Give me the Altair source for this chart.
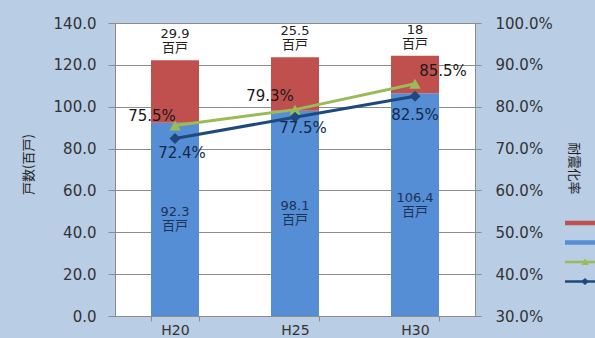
import altair as alt
import pandas as pd

# ---- data ----
years = ["H20", "H25", "H30"]
unsafe = [29.9, 25.5, 18]          # red (top segment)
safe = [92.3, 98.1, 106.4]         # blue (bottom segment)
rate_green = [75.5, 79.3, 85.5]    # green line (triangles)
rate_navy = [72.4, 77.5, 82.5]     # navy line (diamonds)

names = ["耐震性が不十分な住宅", "耐震性を満たす住宅", "耐震化率", "耐震化率（推計）"]
colors = ["#C0504D", "#558ED5", "#9BBB59", "#1F497D"]

bars_df = pd.DataFrame({
    "年": years * 2,
    "系列": [names[1]] * 3 + [names[0]] * 3,
    "戸数": safe + unsafe,
})
top_df = pd.DataFrame({
    "年": years,
    "戸数": [a + b for a, b in zip(safe, unsafe)],
    "値": unsafe,
})
inner_df = pd.DataFrame({"年": years, "値": safe})
lines_df = pd.DataFrame({
    "年": years * 2,
    "系列": [names[2]] * 3 + [names[3]] * 3,
    "率": rate_green + rate_navy,
})

FONT = "DejaVu Sans"
CJK = "Noto Sans CJK JP"

x_enc = alt.X(
    "年:N",
    scale=alt.Scale(domain=years, paddingInner=0.6, paddingOuter=0.3),
    axis=alt.Axis(title=None, labelAngle=0, tickBand="extent", tickSize=5,
                  labelPadding=2, grid=False, labelFontSize=14),
)

# ---- left side: stacked bars ----
y_left_axis = alt.Axis(
    title="戸数(百戸)", values=[0, 20, 40, 60, 80, 100, 120, 140], format=".1f",
    grid=True, tickSize=7, labelPadding=12, titleX=-87, titleY=141,
    titleAlign="center", titleBaseline="middle", titleAngle=-90,
)
left_scale = alt.Scale(domain=[0, 140], nice=False, zero=True)

bars = alt.Chart(bars_df).transform_calculate(
    ord=f"datum['系列'] == '{names[1]}' ? 0 : 1"
).mark_bar().encode(
    x=x_enc,
    y=alt.Y("戸数:Q", stack="zero", scale=left_scale, axis=y_left_axis),
    fill=alt.Fill("系列:N", scale=alt.Scale(domain=names[:2], range=colors[:2]), legend=None),
    order=alt.Order("ord:Q"),
)

top_text = alt.Chart(top_df).transform_calculate(
    t="datum['値'] + '\\n百戸'"
).mark_text(
    baseline="middle", dy=-26, lineBreak="\n", lineHeight=14,
    font=f"{FONT}, {CJK}", fontSize=13, color="#222222",
).encode(
    x=x_enc,
    y=alt.Y("戸数:Q", scale=left_scale, axis=y_left_axis),
    text="t:N",
)

inner_text = alt.Chart(inner_df).transform_calculate(
    戸数="datum['値'] / 2",
    t="datum['値'] + '\\n百戸'",
).mark_text(
    baseline="middle", dy=-7, lineBreak="\n", lineHeight=14,
    font=f"{FONT}, {CJK}", fontSize=13, color="#1B3358",
).encode(
    x=x_enc,
    y=alt.Y("戸数:Q", scale=left_scale, axis=y_left_axis),
    text="t:N",
)

left = alt.layer(bars, top_text, inner_text)

# ---- right side: rate lines ----
right_scale = alt.Scale(domain=[30, 100], nice=False, zero=False)
y_right_axis = alt.Axis(
    title="耐震化率", orient="right", values=[30, 40, 50, 60, 70, 80, 90, 100],
    labelExpr="format(datum.value, '.1f') + '%'", grid=False, tickSize=6,
    labelPadding=14, titleX=98, titleY=145, titleAngle=90,
    titleAlign="center", titleBaseline="middle",
)
y_right = alt.Y("率:Q", scale=right_scale, axis=y_right_axis)

right_layers = []
series_style = [
    (names[2], colors[2], "triangle-up", 130),
    (names[3], colors[3], "diamond", 120),
]
label_offsets = {
    names[2]: [(-23, -10), (-25, -14), (28, -13)],
    names[3]: [(7, 14), (8, 11), (0, 19)],
}
for name, col, shp, sz in series_style:
    base = alt.Chart(lines_df).transform_filter(alt.datum["系列"] == name)
    right_layers.append(base.mark_line(color=col, strokeWidth=3).encode(x=x_enc, y=y_right))
    right_layers.append(base.mark_point(filled=True, shape=shp, size=sz, color=col, opacity=1)
                        .encode(x=x_enc, y=y_right))
    for yr, (dx, dy) in zip(years, label_offsets[name]):
        right_layers.append(
            base.transform_filter(alt.datum["年"] == yr)
            .transform_calculate(t="format(datum['率'], '.1f') + '%'")
            .mark_text(dx=dx, dy=dy, baseline="middle", font=FONT, fontSize=15,
                       color="#1A1A1A" if name == names[2] else "#14284A")
            .encode(x=x_enc, y=y_right, text="t:N")
        )

# legend (symbols drawn from the scales, labels fall outside the picture)
paths = [
    "M-2,-0.22H2V0.22H-2Z",
    "M-2,-0.22H2V0.22H-2Z",
    "M-2,-0.12H2V0.12H-2Z M0,-0.38L0.38,0.3L-0.38,0.3Z",
    "M-2,-0.12H2V0.12H-2Z M0,-0.34L0.4,0L0,0.34L-0.4,0Z",
]
leg = alt.Legend(orient="none", legendX=460, legendY=190, title=None,
                 symbolSize=400, symbolStrokeWidth=0, labelFontSize=12,
                 labelFont=CJK, labelColor="#222222", rowPadding=3.5, padding=0,
                 symbolOffset=0, labelOffset=8)
legend_layer = alt.Chart(lines_df).transform_filter("false").mark_point(
    filled=True, opacity=1
).encode(
    x=x_enc,
    y=y_right,
    color=alt.Color("系列:N", scale=alt.Scale(domain=names, range=colors), legend=leg),
    shape=alt.Shape("系列:N", scale=alt.Scale(domain=names, range=paths), legend=leg),
)
right_layers.append(legend_layer)

right = alt.layer(*right_layers)

chart = alt.layer(left, right).resolve_scale(y="independent").properties(
    width=360, height=293,
    padding={"left": 115, "top": 23, "right": 120, "bottom": 22},
    autosize=alt.AutoSizeParams(type="none"),
    background="#B9CDE5",
).configure_view(
    fill="white", stroke="#8C8C8C", strokeWidth=1,
).configure_axis(
    labelFont=FONT, labelFontSize=15, labelColor="#333333",
    tickColor="#8C8C8C", domainColor="#8C8C8C", gridColor="#8C8C8C",
    titleFont=CJK, titleFontSize=13, titleColor="#222222", titleFontWeight="normal",
)

chart.save("out.html", embed_options={"renderer": "svg", "actions": False})
